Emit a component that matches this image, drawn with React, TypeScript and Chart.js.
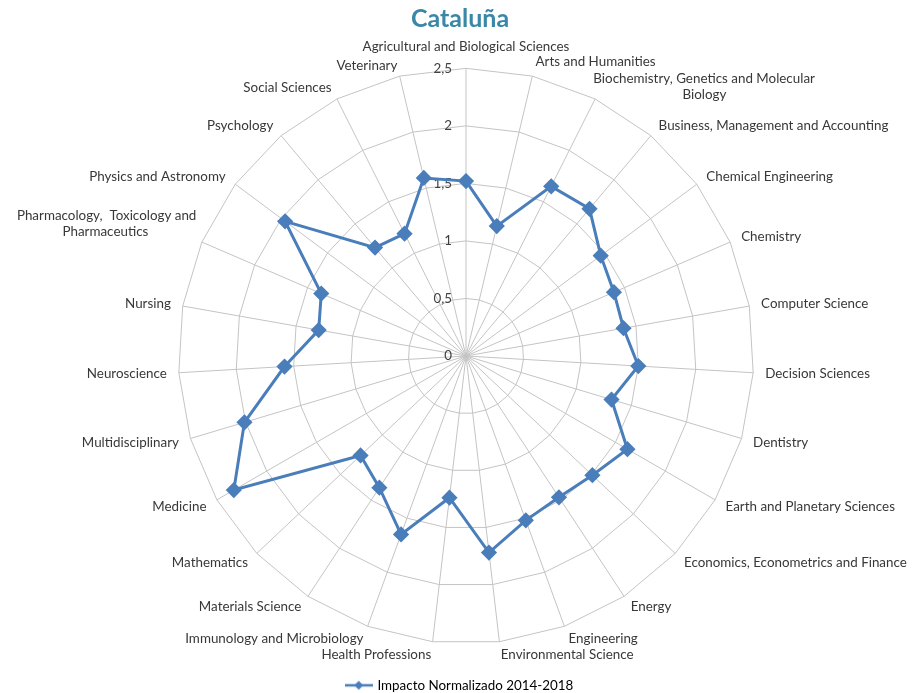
import React, { useEffect, useRef } from "react";
import { Chart, registerables } from "chart.js";

Chart.register(...registerables);

const categories: (string | string[])[] = [
  "Agricultural and Biological Sciences",
  "Arts and Humanities",
  ["Biochemistry, Genetics and Molecular", "Biology"],
  "Business, Management and Accounting",
  "Chemical Engineering",
  "Chemistry",
  "Computer Science",
  "Decision Sciences",
  "Dentistry",
  "Earth and Planetary Sciences",
  "Economics, Econometrics and Finance",
  "Energy",
  "Engineering",
  "Environmental Science",
  "Health Professions",
  "Immunology and Microbiology",
  "Materials Science",
  "Mathematics",
  "Medicine",
  "Multidisciplinary",
  "Neuroscience",
  "Nursing",
  ["Pharmacology,  Toxicology and", "Pharmaceutics"],
  "Physics and Astronomy",
  "Psychology",
  "Social Sciences",
  "Veterinary",
];

const impacto: number[] = [
  1.52, 1.16, 1.65, 1.67, 1.46, 1.4, 1.39, 1.5, 1.32, 1.62, 1.51, 1.47, 1.52,
  1.72, 1.24, 1.65, 1.37, 1.26, 2.33, 2.01, 1.58, 1.3, 1.37, 1.96, 1.23, 1.19,
  1.59,
];

const tickValues: number[] = [0, 0.5, 1, 1.5, 2, 2.5];
const tickLabels: string[] = ["0", "0,5", "1", "1,5", "2", "2,5"];

const seriesName = "Impacto Normalizado 2014-2018";
const BLUE = "#4A7EBB";
const FONT = "Lato, 'Open Sans', sans-serif";
const LABEL_SIZE = 13.4;

// centre the lines of a multi-line label (Chart.js aligns them to one side)
function centreLines(label: string | string[], angleDeg: number): string | string[] {
  if (!Array.isArray(label)) return label;
  const ctx = document.createElement("canvas").getContext("2d")!;
  ctx.font = `${LABEL_SIZE}px ${FONT}`;
  const widths = label.map((l) => ctx.measureText(l).width);
  const maxW = Math.max(...widths);
  const sp = ctx.measureText(" ").width || 3;
  const leftAligned = angleDeg > 0 && angleDeg < 180;
  return label.map((l, i) => {
    const n = Math.round((maxW - widths[i]) / 2 / sp);
    const pad = " ".repeat(n);
    return leftAligned ? pad + l : l + pad;
  });
}

function legendIcon(): HTMLCanvasElement {
  const c = document.createElement("canvas");
  c.width = 28;
  c.height = 12;
  const ctx = c.getContext("2d")!;
  ctx.strokeStyle = BLUE;
  ctx.lineWidth = 2.5;
  ctx.beginPath();
  ctx.moveTo(0, 6);
  ctx.lineTo(28, 6);
  ctx.stroke();
  ctx.fillStyle = BLUE;
  ctx.beginPath();
  ctx.moveTo(14, 1.5);
  ctx.lineTo(18.5, 6);
  ctx.lineTo(14, 10.5);
  ctx.lineTo(9.5, 6);
  ctx.closePath();
  ctx.fill();
  return c;
}

const tickPlugin = {
  id: "tickLabelsLeft",
  beforeDatasetsDraw(chart: any) {
    const s = chart.scales.r;
    const ctx = chart.ctx;
    ctx.save();
    ctx.font = `13.4px ${FONT}`;
    ctx.fillStyle = "#404040";
    ctx.textAlign = "right";
    ctx.textBaseline = "middle";
    tickValues.forEach((v, i) => {
      const d = s.getDistanceFromCenterForValue(v);
      ctx.fillText(tickLabels[i], s.xCenter - 14, s.yCenter - d);
    });
    ctx.restore();
  },
};

const isMulti = (i: number) => Array.isArray(categories[i]);

function labelPadding(ctx: any): number {
  const i = ctx.index;
  if (i === 0) return 21;
  if (i === 1) return 14;
  if (i === 2) return -4;
  if (i === 22) return 6;
  if (i === 26) return 10;
  return 12;
}

function labelFont(ctx: any) {
  // single-line labels centred vertically on their anchor, as in the original
  return {
    family: FONT,
    size: LABEL_SIZE,
    lineHeight: isMulti(ctx.index) ? 1.2 : 0.1,
  };
}

export default function App() {
  const ref = useRef<HTMLCanvasElement>(null);
  useEffect(() => {
    if (!ref.current) return;
    const icon = legendIcon();
    const n = categories.length;
    const labels = categories.map((c, i) => centreLines(c, (360 / n) * i));
    const chart = new Chart(ref.current, {
      type: "radar",
      data: {
        labels: labels as any,
        datasets: [
          {
            label: seriesName,
            data: impacto,
            borderColor: BLUE,
            backgroundColor: BLUE,
            borderWidth: 3,
            fill: false,
            pointStyle: "rectRot",
            pointRadius: 6,
            pointBackgroundColor: BLUE,
            pointBorderColor: BLUE,
            tension: 0,
          },
        ],
      },
      options: {
        animation: false,
        responsive: true,
        maintainAspectRatio: false,
        layout: { padding: { top: 0, bottom: 0, left: 8, right: 0 } },
        scales: {
          r: {
            min: 0,
            max: 2.5,
            ticks: { stepSize: 0.5, display: false },
            grid: { color: "#c4c4c4", lineWidth: 1 },
            angleLines: { color: "#c4c4c4", lineWidth: 1 },
            pointLabels: {
              display: true,
              font: labelFont as any,
              color: "#383838",
              padding: labelPadding,
            },
          },
        },
        plugins: {
          title: {
            display: true,
            text: "Cataluña",
            color: "#3A87A8",
            font: { family: FONT, size: 25, weight: "bold", lineHeight: 1 },
            padding: { top: 6, bottom: 9 },
          },
          legend: {
            position: "bottom",
            labels: {
              usePointStyle: true,
              pointStyleWidth: 24,
              padding: 17,
              font: { family: FONT, size: LABEL_SIZE },
              color: "#383838",
              generateLabels: () => [
                {
                  text: seriesName,
                  pointStyle: icon,
                  fillStyle: BLUE,
                  strokeStyle: BLUE,
                  lineWidth: 0,
                  hidden: false,
                  datasetIndex: 0,
                } as any,
              ],
            },
          },
          tooltip: { enabled: false },
        },
      },
      plugins: [tickPlugin],
    });
    return () => chart.destroy();
  }, []);
  return (
    <div style={{ position: "fixed", left: 0, top: 0, width: 912, height: 702, background: "#fff" }}>
      <canvas ref={ref} />
    </div>
  );
}
